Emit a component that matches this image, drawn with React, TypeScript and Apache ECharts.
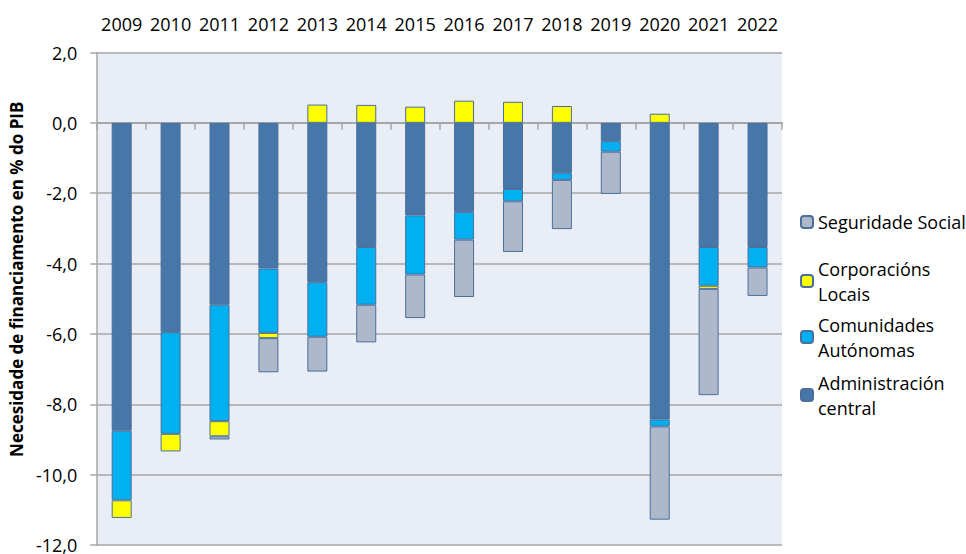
import React, { useEffect, useRef } from "react";
import * as echarts from "echarts";

const categories = ["2009", "2010", "2011", "2012", "2013", "2014", "2015", "2016", "2017", "2018", "2019", "2020", "2021", "2022"];
const adminCentral = [-8.75, -5.95, -5.17, -4.14, -4.53, -3.53, -2.63, -2.53, -1.88, -1.42, -0.52, -8.43, -3.53, -3.53];
const comunidadesAutonomas = [-1.98, -2.89, -3.31, -1.83, -1.55, -1.64, -1.68, -0.79, -0.35, -0.2, -0.3, -0.2, -1.1, -0.58];
const corporacionsLocais = [-0.5, -0.5, -0.43, -0.15, 0.52, 0.51, 0.46, 0.63, 0.6, 0.48, 0, 0.26, -0.09, 0];
const seguridadeSocial = [0, 0, -0.09, -0.97, -0.99, -1.07, -1.24, -1.63, -1.44, -1.4, -1.2, -2.65, -3.02, -0.81];

const yTicks = { min: -12, max: 2, interval: 2 };
const FONT = "'Open Sans', sans-serif";

const seriesDefs = [
  { name: "Administración central", data: adminCentral, color: "#4677A8" },
  { name: "Comunidades Autónomas", data: comunidadesAutonomas, color: "#00B0F0" },
  { name: "Corporacións Locais", data: corporacionsLocais, color: "#FFFF00" },
  { name: "Seguridade Social", data: seguridadeSocial, color: "#ADB9CA" },
];

const legendTops: Record<string, number> = {
  "Seguridade Social": 209.5,
  "Corporacións Locais": 243.5,
  "Comunidades Autónomas": 299.5,
  "Administración central": 357.5,
};

export default function App() {
  const ref = useRef<HTMLDivElement>(null);
  useEffect(() => {
    if (!ref.current) return;
    const chart = echarts.init(ref.current, null, { renderer: "svg" });
    const gridColor = "#A6A6A6";
    const legends = Object.keys(legendTops).map((name) => {
      const twoLine = name !== "Seguridade Social";
      return {
        data: [name],
        left: 800,
        top: legendTops[name],
        orient: "vertical",
        padding: 0,
        itemWidth: 12,
        itemHeight: 12,
        selectedMode: false,
        formatter: (n: string) => (twoLine ? n.replace(" ", "\n") : n),
        textStyle: {
          fontFamily: FONT,
          fontSize: 18,
          lineHeight: 25,
          color: "#000",
          padding: twoLine ? [25, 0, 0, 0] : 0,
        },
      };
    });
    chart.setOption({
      animation: false,
      textStyle: { fontFamily: FONT },
      grid: { left: 97, right: 184, top: 52.5, bottom: 9, show: true, backgroundColor: "#E9EDF6", borderWidth: 0 },
      legend: legends,
      xAxis: [
        {
          type: "category",
          data: categories,
          position: "bottom",
          axisLine: { show: true, onZero: true, lineStyle: { color: gridColor, width: 2 } },
          axisTick: { show: true, length: 7, interval: 0, lineStyle: { color: gridColor, width: 1.5 } },
          axisLabel: { show: false },
        },
        {
          type: "category",
          data: categories,
          position: "top",
          axisLine: { show: false, onZero: false },
          axisTick: { show: false },
          axisLabel: { show: true, margin: 20, fontFamily: FONT, fontSize: 18, color: "#000", interval: 0 },
        },
      ],
      yAxis: {
        type: "value",
        min: yTicks.min,
        max: yTicks.max,
        interval: yTicks.interval,
        name: "Necesidade de financiamento en % do PIB",
        nameLocation: "middle",
        nameRotate: 90,
        nameGap: 70,
        nameTextStyle: { fontFamily: FONT, fontSize: 17, fontWeight: "bold", color: "#000", padding: [0, 0, 0, 39] },
        axisLine: { show: true, lineStyle: { color: gridColor, width: 1.5 } },
        axisTick: { show: true, length: 7, lineStyle: { color: gridColor, width: 1.5 } },
        axisLabel: {
          margin: 20,
          fontFamily: FONT,
          fontSize: 18,
          color: "#000",
          formatter: (v: number) => v.toFixed(1).replace(".", ","),
        },
        splitLine: { show: true, lineStyle: { color: gridColor, width: 1.5 } },
      },
      series: seriesDefs.map((s) => ({
        name: s.name,
        type: "bar",
        stack: "total",
        xAxisIndex: 0,
        barWidth: 20,
        data: s.data.map((v) => (v === 0 ? null : v)),
        itemStyle: { color: s.color, borderColor: "#4A6F9C", borderWidth: 1 },
      })),
    });
    return () => chart.dispose();
  }, []);
  return <div ref={ref} style={{ width: 966, height: 554, position: "absolute", left: 0, top: 0 }} />;
}
